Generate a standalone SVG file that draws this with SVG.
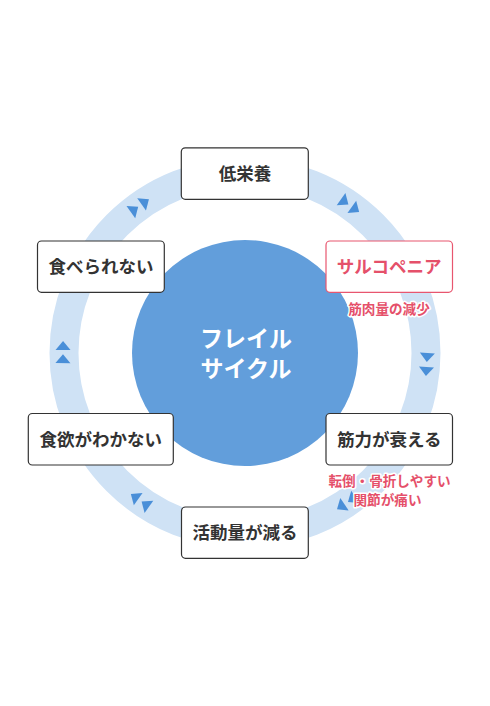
<svg xmlns="http://www.w3.org/2000/svg" width="490" height="706" viewBox="0 0 490 706">
<style>
.box{fill:#fff;stroke:#333;stroke-width:1.2}
.box.pink{stroke:#e8566f}
.lbl{font-family:"Noto Sans CJK JP","Noto Sans",sans-serif;font-weight:bold;font-size:17.5px;fill:#333;text-anchor:middle}
.lbl.pink{fill:#e5506a}
.note{font-family:"Noto Sans CJK JP","Noto Sans",sans-serif;font-weight:bold;font-size:13.6px;fill:#e5506a;text-anchor:middle;stroke:#fff;stroke-width:3;stroke-linejoin:round;paint-order:stroke}
.center{font-family:"Noto Sans CJK JP","Noto Sans",sans-serif;font-weight:bold;font-size:23px;fill:#fff;text-anchor:middle}
.arr{fill:#4a8fd8}
</style>
<defs>
<polygon id="tri" points="-7.5,-4.5 7.5,-4.5 0,4.5"/>
</defs>
<rect width="490" height="706" fill="#fff"/>
<g id="connectors">
<circle cx="245" cy="353" r="181" fill="none" stroke="#cfe2f5" stroke-width="29"/>
<g class="arr">
<g transform="translate(245 353) rotate(-125.5) translate(181 0)"><use href="#tri" y="-6.6"/><use href="#tri" y="6.6"/></g>
<g transform="translate(245 353) rotate(-54.5) translate(181 0)"><use href="#tri" y="-6.6"/><use href="#tri" y="6.6"/></g>
<g transform="translate(245 353) rotate(3.6) translate(182 0)"><use href="#tri" y="-7"/><use href="#tri" y="7"/></g>
<g transform="translate(245 353) rotate(56) translate(181 0)"><use href="#tri" y="-6.6"/><use href="#tri" y="6.6"/></g>
<g transform="translate(245 353) rotate(125.5) translate(181 0)"><use href="#tri" y="-6.6"/><use href="#tri" y="6.6"/></g>
<g transform="translate(245 353) rotate(180.3) translate(182 0)"><use href="#tri" y="-6.6"/><use href="#tri" y="6.6"/></g>
</g>
</g>
<g id="center">
<circle cx="245" cy="353" r="113" fill="#629edb"/>
<text class="center" x="246" y="346.5">フレイル</text>
<text class="center" x="246" y="376.5">サイクル</text>
</g>
<g id="node-teieiyou">
<rect class="box" x="181.3" y="147.8" width="127" height="51.5" rx="4"/>
<text class="lbl" x="245" y="179.8">低栄養</text>
</g>
<g id="node-sarcopenia">
<rect class="box pink" x="326" y="241" width="126.5" height="51.3" rx="4"/>
<text class="lbl pink" x="389.2" y="273">サルコペニア</text>
<text class="note" x="389" y="314">筋肉量の減少</text>
</g>
<g id="node-kinryoku">
<rect class="box" x="326" y="413.5" width="126.5" height="51.5" rx="4"/>
<text class="lbl" x="389.2" y="445.5">筋力が衰える</text>
<text class="note" x="389.5" y="486">転倒・骨折しやすい</text>
<text class="note" x="387.5" y="504.5">関節が痛い</text>
</g>
<g id="node-katsudou">
<rect class="box" x="181.5" y="507" width="126.8" height="51.3" rx="4"/>
<text class="lbl" x="245" y="539">活動量が減る</text>
</g>
<g id="node-shokuyoku">
<rect class="box" x="28.3" y="413.5" width="145" height="51.5" rx="4"/>
<text class="lbl" x="100.8" y="445.5">食欲がわかない</text>
</g>
<g id="node-taberarenai">
<rect class="box" x="37.5" y="241" width="126.8" height="51.3" rx="4"/>
<text class="lbl" x="101" y="273">食べられない</text>
</g>
</svg>
